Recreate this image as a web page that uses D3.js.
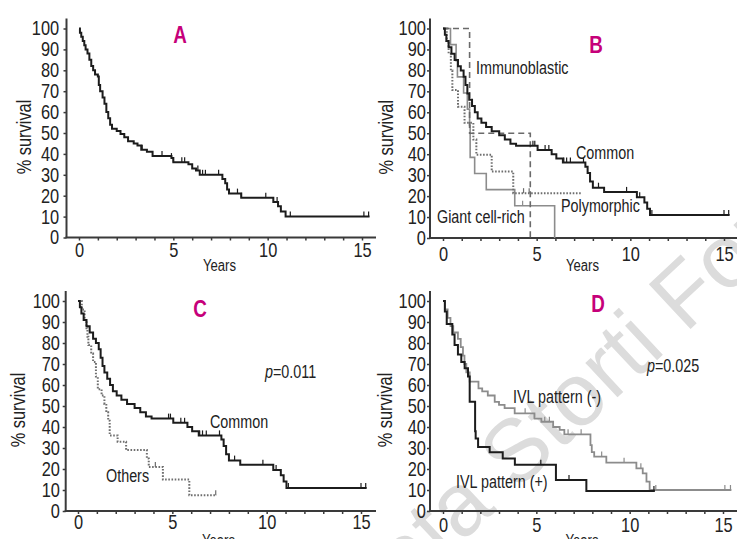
<!DOCTYPE html>
<html>
<head>
<meta charset="utf-8">
<script src="https://d3js.org/d3.v7.min.js"></script>
<title>Survival curves</title>
<style>
  body { margin: 0; background: #fff; }
  svg {
    display: block;
    font-family: "Liberation Sans", Arial, sans-serif;
  }
</style>
</head>
<body>
<div id="chart"></div>
<script>
// tick values
const yTicks = [0, 10, 20, 30, 40, 50, 60, 70, 80, 90, 100];
const xLabels = [0, 5, 10, 15];
const xMinor = d3.range(0, 16);

// A: whole series
const allTime = [0, 0.05, 0.12, 0.2, 0.28, 0.35, 0.45, 0.55, 0.65, 0.75, 0.85, 1.0, 1.05, 1.12, 1.25, 1.35, 1.45, 1.55, 1.65, 1.75, 2.0, 2.2, 2.4, 2.6, 2.9, 3.1, 3.3, 3.6, 3.9, 4.9, 5.0, 5.8, 6.0, 6.2, 6.4, 7.6, 7.75, 7.85, 7.95, 8.6, 10.3, 10.55, 10.7, 10.95];
const allSurv = [100, 98, 96, 94, 92, 90, 88, 85, 82, 80, 78, 77, 73, 70, 67, 64, 60, 57, 54, 52, 51, 49.5, 48, 46, 45, 44, 42, 41, 39, 38, 36, 35, 33, 32, 30, 28, 26, 23, 21, 19, 17, 15, 12.5, 10];
const allCens = [3.35, 4.4, 4.9, 5.0, 5.45, 5.6, 6.3, 6.55, 6.7, 7.4, 8.4, 8.6, 9.9, 10.5, 11.2, 15.1, 15.35];
const allEnd = 15.4;

// B and C: common type
const commonTime = [0, 0.1, 0.18, 0.3, 0.45, 0.62, 0.8, 0.95, 1.1, 1.2, 1.3, 1.4, 1.55, 1.7, 1.85, 2.05, 2.3, 2.6, 3.0, 3.3, 3.6, 3.9, 5.05, 5.8, 6.05, 6.4, 7.6, 7.72, 7.85, 8.0, 8.6, 10.35, 10.75, 10.9, 11.05];
const commonSurv = [100, 97, 94, 91, 88, 85, 82, 80, 77, 73, 69, 66, 63, 60, 57, 55, 53, 51, 49, 47, 45, 44, 42, 40, 38, 36, 34, 31, 27, 24, 22, 19.5, 17, 14, 11];
const commonCens = [4.8, 4.9, 5.45, 5.65, 6.45, 6.6, 6.8, 7.5, 8.3, 9.8, 10.5, 11.15, 15.0, 15.25];
const commonEnd = 15.3;

// B: other types
const immunoTime = [0, 1.42, 4.66];
const immunoSurv = [100, 50, 0];
const polyTime = [0, 0.2, 0.3, 0.42, 0.5, 0.8, 1.15, 1.62, 1.78, 2.6, 3.75];
const polySurv = [100, 94, 88, 80, 70.6, 62.7, 55, 47, 39.7, 31.7, 21.4];
const polyCens = [4.3, 4.6];
const polyEnd = 7.4;
const giantTime = [0, 0.4, 0.7, 0.77, 1.1, 1.3, 1.42, 1.45, 1.69, 2.31, 3.83, 5.96];
const giantSurv = [100, 92.3, 84.6, 76.9, 69.2, 61.5, 53.8, 38.5, 30.8, 23.1, 15.4, 0];
const giantCens = [4.25];

// C: others
const othersTime = [0, 0.2, 0.35, 0.45, 0.5, 0.55, 0.7, 0.8, 0.95, 1.05, 1.25, 1.4, 1.5, 1.6, 1.68, 2.1, 2.55, 3.65, 3.75, 4.5, 5.9];
const othersSurv = [100, 96, 91, 87, 83, 79, 75, 71, 64, 58, 55, 51, 47, 43, 36, 33, 29, 25, 21, 15, 7.5];
const othersCens = [4.1, 7.3];
const othersEnd = 7.35;

// D: IVL pattern
const ivlNegTime = [0, 0.1, 0.25, 0.4, 0.55, 0.8, 0.95, 1.07, 1.15, 1.25, 1.43, 1.9, 2.1, 2.4, 2.77, 3.0, 3.3, 3.84, 4.9, 5.27, 5.9, 6.25, 6.5, 7.9, 7.97, 8.1, 8.75, 10.36, 10.7, 10.9, 11.07];
const ivlNegSurv = [100, 96, 92, 88, 85, 82, 78, 74, 70, 66, 61.6, 58.4, 57, 55, 52, 50.5, 49, 46.5, 44, 42.5, 40, 38.6, 36.5, 31.4, 28, 25.9, 23, 20.3, 17.9, 14, 10];
const ivlNegCens = [4.4, 4.9, 5.45, 5.7, 6.7, 7.4, 8.5, 9.7, 10.6, 11.4, 15.1, 15.4];
const ivlNegEnd = 15.45;
const ivlPosTime = [0, 0.1, 0.2, 0.5, 0.62, 0.8, 0.98, 1.16, 1.34, 1.43, 1.72, 1.75, 1.88, 2.5, 3.2, 3.85, 6.05, 7.68];
const ivlPosSurv = [100, 95, 89, 84, 79, 74.5, 71, 68, 64, 52, 38, 34.5, 30.5, 28, 25, 22, 14.8, 9.5];
const ivlPosCens = [5.24, 6.75, 11.3];
const ivlPosEnd = 11.35;

const w = 737;
const h = 539;
const black = "#1c1c1c";
const grey = "#8c8c8c";
const magenta = "#c6007a";
const squeeze = 0.82; // the figure uses a condensed face

const svg = d3.select("#chart")
  .append("svg")
  .attr("width", w)
  .attr("height", h);

// watermark (behind everything)
const wm = svg.append("g")
  .attr("transform", "translate(443 560) rotate(-43)")
  .attr("font-size", 89)
  .attr("fill", "#dcdcdc");
wm.append("text").attr("text-anchor", "end").text("Ferra");
wm.append("text").attr("text-anchor", "start").text("ta Storti Foundation");

// condensed text placed at x, y
function label(g, x, y, size) {
  return g.append("text")
    .attr("transform", `translate(${x} ${y}) scale(${squeeze} 1)`)
    .attr("font-size", size)
    .attr("fill", "#222");
}

const panels = [
  { letter: "A", left: 79, right: 362, top: 28.5, bottom: 237.5, axisX: 66.5, edge: 376,
    letterX: 180, letterY: 43, labelX: 31, yPad: 4, xPad: 2.5, yearsY: 271,
    curves: [
      { time: allTime, surv: allSurv, end: allEnd, cens: allCens, color: black, width: 2 }
    ],
    notes: [] },
  { letter: "B", left: 443, right: 724, top: 28.5, bottom: 238, axisX: 430, edge: 737,
    letterX: 596, letterY: 53, labelX: 393, yPad: 0, xPad: 6, yearsY: 271,
    curves: [
      { time: giantTime, surv: giantSurv, end: 5.96, cens: giantCens, color: grey, width: 1.6 },
      { time: polyTime, surv: polySurv, end: polyEnd, cens: polyCens, color: "#6e6e6e", width: 2, dash: "1.6,1.6" },
      { time: immunoTime, surv: immunoSurv, end: 4.66, cens: [], color: "#6a6a6a", width: 1.6, dash: "6,4" },
      { time: commonTime, surv: commonSurv, end: commonEnd, cens: commonCens, color: black, width: 2 }
    ],
    notes: [
      { text: "Immunoblastic", x: 476, y: 74 },
      { text: "Common", x: 576, y: 159 },
      { text: "Polymorphic", x: 561, y: 212 },
      { text: "Giant cell-rich", x: 437, y: 223 }
    ] },
  { letter: "C", left: 78, right: 361, top: 301, bottom: 511, axisX: 65.7, edge: 376,
    letterX: 200, letterY: 317, labelX: 25, yPad: 2, xPad: 0.5, yearsY: 546,
    curves: [
      { time: othersTime, surv: othersSurv, end: othersEnd, cens: othersCens, color: "#6e6e6e", width: 2, dash: "1.6,1.6" },
      { time: commonTime, surv: commonSurv, end: commonEnd, cens: commonCens, color: black, width: 2 }
    ],
    notes: [
      { text: "=0.011", p: true, x: 265, y: 378 },
      { text: "Common", x: 210, y: 428 },
      { text: "Others", x: 106, y: 482 }
    ] },
  { letter: "D", left: 443, right: 723, top: 301, bottom: 511, axisX: 430, edge: 737,
    letterX: 598, letterY: 312, labelX: 392, yPad: 0, xPad: 4, yearsY: 546,
    curves: [
      { time: ivlNegTime, surv: ivlNegSurv, end: ivlNegEnd, cens: ivlNegCens, color: grey, width: 1.8 },
      { time: ivlPosTime, surv: ivlPosSurv, end: ivlPosEnd, cens: ivlPosCens, color: black, width: 2 }
    ],
    notes: [
      { text: "=0.025", p: true, x: 647, y: 372 },
      { text: "IVL pattern (-)", x: 513, y: 403 },
      { text: "IVL pattern (+)", x: 456, y: 488 }
    ] }
];

panels.forEach(p => {
  const x = d3.scaleLinear().domain([0, 15]).range([p.left, p.right]);
  const y = d3.scaleLinear().domain([0, 100]).range([p.bottom, p.top]);
  const g = svg.append("g");

  // axis lines
  g.append("line")
    .attr("x1", p.axisX).attr("x2", p.axisX)
    .attr("y1", y(100) - 10).attr("y2", p.bottom)
    .attr("stroke", "#3a3a3a").attr("stroke-width", 2);
  g.append("line")
    .attr("x1", p.axisX - 1).attr("x2", p.edge)
    .attr("y1", p.bottom).attr("y2", p.bottom)
    .attr("stroke", "#3a3a3a").attr("stroke-width", 2);

  // y axis ticks and labels
  const yAxis = g.append("g")
    .attr("transform", `translate(${p.axisX} 0)`)
    .call(d3.axisLeft(y).tickValues(yTicks).tickSize(3).tickPadding(2 + p.yPad));
  yAxis.select(".domain").remove();

  // x axis: small ticks each year, labels every 5
  const xAxis = g.append("g")
    .attr("transform", `translate(0 ${p.bottom})`)
    .call(d3.axisBottom(x).tickValues(xMinor).tickSize(3).tickPadding(p.xPad)
      .tickFormat(d => xLabels.includes(d) ? d : ""));
  xAxis.select(".domain").remove();

  [yAxis, xAxis].forEach(a => {
    a.selectAll("line").attr("stroke", "#3a3a3a").attr("stroke-width", 1.5);
    a.selectAll("text")
      .attr("font-size", 20)
      .attr("fill", "#222")
      .attr("font-family", null)
      .attr("transform", `scale(${squeeze} 1)`);
  });

  g.append("text")
    .attr("transform", `translate(${p.labelX} ${(p.top + p.bottom) / 2 + 4}) rotate(-90) scale(${squeeze} 1)`)
    .attr("text-anchor", "middle")
    .attr("font-size", 20)
    .attr("fill", "#222")
    .text("% survival");

  label(g, x(7.5) - 1, p.yearsY, 16)
    .attr("text-anchor", "middle")
    .text("Years");

  label(g, p.letterX, p.letterY, 23)
    .attr("text-anchor", "middle")
    .attr("font-weight", "bold")
    .attr("fill", magenta)
    .text(p.letter);

  // survival curves
  const line = d3.line()
    .x(d => x(d[0]))
    .y(d => y(d[1]))
    .curve(d3.curveStepAfter);

  p.curves.forEach(c => {
    const pts = c.time.map((t, i) => [t, c.surv[i]]);
    if (c.end > c.time[c.time.length - 1]) pts.push([c.end, c.surv[c.surv.length - 1]]);
    g.append("path")
      .attr("d", line(pts))
      .attr("fill", "none")
      .attr("stroke", c.color)
      .attr("stroke-width", c.width)
      .attr("stroke-dasharray", c.dash || null);

    g.selectAll(null)
      .data(c.cens)
      .enter()
      .append("line")
      .attr("x1", d => x(d)).attr("x2", d => x(d))
      .attr("y1", d => y(c.surv[d3.bisectRight(c.time, d) - 1]) - 5)
      .attr("y2", d => y(c.surv[d3.bisectRight(c.time, d) - 1]))
      .attr("stroke", c.color)
      .attr("stroke-width", 1.2);
  });

  // annotations
  p.notes.forEach(n => {
    const t = label(g, n.x, n.y, 17.5);
    if (n.p) t.append("tspan").attr("font-style", "italic").text("p");
    t.append("tspan").text(n.text);
  });
});
</script>
</body>
</html>
